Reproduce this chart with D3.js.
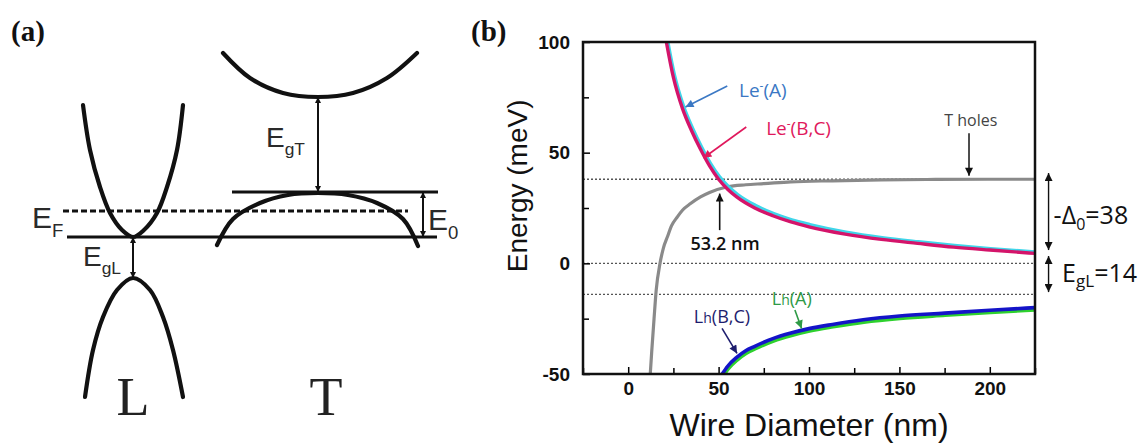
<!DOCTYPE html>
<html>
<head>
<meta charset="utf-8">
<script src="https://cdnjs.cloudflare.com/ajax/libs/d3/7.8.5/d3.min.js"></script>
<style>
  body { margin: 0; background: #fff; }
  svg { display: block; }
  .tick line { stroke: #000; stroke-width: 1.5; }
  .domain { display: none; }
</style>
</head>
<body>
<div class="chart"></div>
<script>
// ---- panel (b): wire diameter (nm) vs energy (meV)
var leDiam = [20, 25, 30, 35, 40, 45, 50, 55, 60, 70, 80, 90, 100, 120, 140, 160, 180, 200, 225];
var leA = [106, 85, 71, 61, 52.5, 45, 39, 34.5, 31, 26, 22.3, 19.5, 17.4, 14, 11.5, 9.6, 7.9, 6.5, 5];
var leBC = [105, 84, 70, 60, 51.5, 44, 38, 33.5, 30, 25, 21.5, 18.7, 16.5, 13.2, 10.8, 9, 7.3, 6, 4.5];

var tDiam = [12.2, 13, 14.3, 15.5, 17.6, 19.5, 21.7, 24, 27.2, 30, 34.5, 40, 45, 55, 65, 75, 90, 113, 140, 170, 200, 225];
var tHoles = [-50, -40, -25, -12, 0, 7, 12, 17, 21, 24, 27, 30, 32, 34.6, 35.5, 36, 36.8, 37.3, 37.7, 37.9, 38, 38];

var lhDiam = [52, 55, 60, 65, 70, 80, 90, 100, 113, 130, 150, 175, 200, 225];
var lhA = [-51, -47.5, -43.5, -40.5, -38.5, -35, -32.5, -30.5, -28.6, -26.5, -24.8, -23.4, -22.1, -21];
var lhBC = [-50, -46.5, -42.5, -39.5, -37.5, -34, -31.5, -29.5, -27.6, -25.5, -23.8, -22.5, -21.2, -20];

var xTicks = [0, 50, 100, 150, 200];
var xMinor = [-25, 25, 75, 125, 175, 225];
var yTicks = [-50, 0, 50, 100];
var yMinor = [-25, 25, 75];
var refLevels = [38, 0, -14];

// ---- panel (a): schematic bands, [k, E] in arbitrary units
var lCond = [[-1.0, 2.64], [-0.86, 1.74], [-0.66, 1.0], [-0.46, 0.48], [-0.22, 0.14], [0, 0], [0.22, 0.14], [0.48, 0.48], [0.68, 1.0], [0.88, 1.74], [1.0, 2.64]];
var lVal = [[-0.96, -3.2], [-0.8, -2.26], [-0.6, -1.6], [-0.32, -1.06], [0, -0.82], [0.34, -1.06], [0.6, -1.6], [0.8, -2.26], [1.0, -3.2]];
var tCond = [[1.8, 3.68], [2.34, 3.18], [3.0, 2.88], [3.7, 2.8], [4.4, 2.88], [5.08, 3.18], [5.68, 3.68]];
var tVal = [[1.68, -0.16], [2.0, 0.36], [2.54, 0.68], [3.1, 0.84], [3.7, 0.88], [4.3, 0.84], [4.88, 0.68], [5.4, 0.36], [5.7, -0.18]];
var solidLevels = [[-1.32, 6.08, 0], [1.98, 6.1, 0.9]];
var fermiLevel = [-1.4, 5.5, 0.52];
var gapArrows = [[3.7, 2.8, 0.9], [5.8, 0.9, 0], [0, 0, -0.82]];

var svg = d3
  .select(".chart")
  .append("svg")
  .attr("width", 1142)
  .attr("height", 445);

var defs = svg.append("defs");

function addMarker(id, color, w, h) {
  defs
    .append("marker")
    .attr("id", id)
    .attr("viewBox", "0 0 10 10")
    .attr("refX", 10)
    .attr("refY", 5)
    .attr("markerUnits", "userSpaceOnUse")
    .attr("markerWidth", w)
    .attr("markerHeight", h)
    .attr("orient", "auto-start-reverse")
    .append("path")
    .attr("d", "M0,0L10,5L0,10z")
    .attr("fill", color);
}
addMarker("head-a", "#111", 8, 6);
addMarker("head-k", "#111", 10, 8);
addMarker("head-blue", "#3b78c4", 10, 8);
addMarker("head-red", "#e0185c", 10, 8);
addMarker("head-green", "#2e9a46", 10, 8);
addMarker("head-navy", "#1d1d6e", 10, 8);

// panel labels
svg.append("text").attr("x", 11).attr("y", 41).text("(a)")
  .style("font", "bold 29px 'Liberation Serif', serif").attr("fill", "#111");
svg.append("text").attr("x", 471).attr("y", 41).text("(b)")
  .style("font", "bold 29px 'Liberation Serif', serif").attr("fill", "#111");

// ================= panel (a)
var ka = d3.scaleLinear().domain([0, 1]).range([133, 183]);
var ea = d3.scaleLinear().domain([0, 1]).range([237, 187]);
var gA = svg.append("g");

var bandLine = d3
  .line()
  .x((d) => ka(d[0]))
  .y((d) => ea(d[1]))
  .curve(d3.curveCatmullRom);

[lCond, lVal, tCond, tVal].forEach(function (band) {
  gA.append("path")
    .attr("d", bandLine(band))
    .attr("fill", "none")
    .attr("stroke", "#111")
    .attr("stroke-width", 4.2)
    .attr("stroke-linecap", "round");
});

solidLevels.forEach(function (d) {
  gA.append("line")
    .attr("x1", ka(d[0])).attr("x2", ka(d[1]))
    .attr("y1", ea(d[2])).attr("y2", ea(d[2]))
    .attr("stroke", "#111").attr("stroke-width", 3);
});

gA.append("line")
  .attr("x1", ka(fermiLevel[0])).attr("x2", ka(fermiLevel[1]))
  .attr("y1", ea(fermiLevel[2])).attr("y2", ea(fermiLevel[2]))
  .attr("stroke", "#111").attr("stroke-width", 3)
  .attr("stroke-dasharray", "6,3");

gapArrows.forEach(function (d) {
  gA.append("line")
    .attr("x1", ka(d[0])).attr("x2", ka(d[0]))
    .attr("y1", ea(d[1])).attr("y2", ea(d[2]))
    .attr("stroke", "#111").attr("stroke-width", 2)
    .attr("marker-start", "url(#head-a)")
    .attr("marker-end", "url(#head-a)");
});

function subLabel(g, k, e, main, sub, size) {
  var t = g.append("text")
    .attr("x", ka(k)).attr("y", ea(e))
    .style("font-family", "'Liberation Sans', Arial, sans-serif")
    .style("font-size", size + "px")
    .attr("fill", "#2a2a2a");
  t.append("tspan").text(main);
  t.append("tspan").attr("dy", size * 0.3).style("font-size", size * 0.62 + "px").text(sub);
  return t;
}
subLabel(gA, -2.02, 0.18, "E", "F", 30);
subLabel(gA, 2.66, 1.8, "E", "gT", 28);
subLabel(gA, -1.0, -0.58, "E", "gL", 28);
subLabel(gA, 5.9, 0.14, "E", "0", 30);

gA.append("text").attr("x", ka(0)).attr("y", ea(-3.56)).attr("text-anchor", "middle")
  .style("font", "54px 'Liberation Serif', serif").attr("fill", "#222").text("L");
gA.append("text").attr("x", ka(3.86)).attr("y", ea(-3.56)).attr("text-anchor", "middle")
  .style("font", "54px 'Liberation Serif', serif").attr("fill", "#222").text("T");

// ================= panel (b)
var x = d3.scaleLinear().domain([-25, 225]).range([583, 1035]);
var y = d3.scaleLinear().domain([-50, 100]).range([374, 42]);
var gB = svg.append("g");

defs.append("clipPath").attr("id", "plot-clip")
  .append("rect")
  .attr("x", x(-25)).attr("y", y(100))
  .attr("width", x(225) - x(-25)).attr("height", y(-50) - y(100));

// dotted reference levels
gB.selectAll(".ref")
  .data(refLevels)
  .enter()
  .append("line")
  .attr("x1", x(-25)).attr("x2", x(225))
  .attr("y1", (d) => y(d)).attr("y2", (d) => y(d))
  .attr("stroke", "#555").attr("stroke-width", 1.3)
  .attr("stroke-dasharray", "2,2");

var curves = gB.append("g").attr("clip-path", "url(#plot-clip)");

function drawSeries(xs, ys, color, width, dx, dy) {
  var pts = xs.map((d, i) => [d, ys[i]]);
  curves.append("path")
    .datum(pts)
    .attr("d", d3.line().x((d) => x(d[0]) + dx).y((d) => y(d[1]) + dy).curve(d3.curveMonotoneX))
    .attr("fill", "none")
    .attr("stroke", color)
    .attr("stroke-width", width)
    .attr("stroke-linejoin", "round");
}

drawSeries(tDiam, tHoles, "#8a8a8a", 3.2, 0, 0);
drawSeries(leDiam, leA, "#3fd6ea", 4, 0.8, 0);
drawSeries(leDiam, leBC, "#d4146a", 3.4, 0, 0);
drawSeries(lhDiam, lhA, "#2ed12e", 4, 0.6, 0);
drawSeries(lhDiam, lhBC, "#1414c8", 3.6, 0, 0);

// axes (ticks point inward)
var xAxis = d3.axisBottom(x).tickValues(xTicks).tickSizeInner(-7).tickSizeOuter(0)
  .tickPadding(8).tickFormat((d) => String(d));
var xAxisMinor = d3.axisBottom(x).tickValues(xMinor).tickSizeInner(-6).tickSizeOuter(0).tickFormat("");
var yAxis = d3.axisLeft(y).tickValues(yTicks).tickSizeInner(-7).tickSizeOuter(0)
  .tickPadding(13).tickFormat((d) => String(d));
var yAxisMinor = d3.axisLeft(y).tickValues(yMinor).tickSizeInner(-6).tickSizeOuter(0).tickFormat("");

gB.append("g").attr("transform", `translate(0, ${y(-50)})`).call(xAxis);
gB.append("g").attr("transform", `translate(0, ${y(-50)})`).call(xAxisMinor);
gB.append("g").attr("transform", `translate(${x(-25)}, 0)`).call(yAxis);
gB.append("g").attr("transform", `translate(${x(-25)}, 0)`).call(yAxisMinor);

gB.selectAll(".tick text")
  .style("font", "bold 19px 'Liberation Sans', Arial, sans-serif")
  .attr("fill", "#111");

gB.append("rect")
  .attr("x", x(-25)).attr("y", y(100))
  .attr("width", x(225) - x(-25)).attr("height", y(-50) - y(100))
  .attr("fill", "none").attr("stroke", "#111").attr("stroke-width", 2.5);

// axis titles
gB.append("text")
  .attr("transform", `translate(527, ${y(35)}) rotate(-90)`)
  .attr("text-anchor", "middle")
  .style("font", "28px 'Liberation Sans', Arial, sans-serif")
  .attr("fill", "#111")
  .text("Energy (meV)");
gB.append("text")
  .attr("x", x(100)).attr("y", 436)
  .attr("text-anchor", "middle")
  .style("font", "32px 'Liberation Sans', Arial, sans-serif")
  .attr("fill", "#111")
  .text("Wire Diameter (nm)");

// curve annotations
function annot(tx, ty, color, size, parts) {
  var t = gB.append("text")
    .attr("x", x(tx)).attr("y", y(ty))
    .style("font-family", "'Open Sans', sans-serif")
    .style("font-size", size + "px")
    .attr("fill", color);
  parts.forEach(function (p) {
    var s = t.append("tspan").text(p[0]);
    if (p[1]) s.style("font-size", p[1] + "px");
    if (p[2]) s.attr("dy", p[2]);
  });
  return t;
}
function arrow(x1, y1, x2, y2, marker, color) {
  gB.append("line")
    .attr("x1", x(x1)).attr("y1", y(y1))
    .attr("x2", x(x2)).attr("y2", y(y2))
    .attr("stroke", color).attr("stroke-width", 1.6)
    .attr("marker-end", `url(#${marker})`);
}

annot(61.3, 75.1, "#3b78c4", 19, [["Le"], ["-", 12, -7], ["(A)", 19, 7]]);
arrow(54.8, 80.1, 31.7, 70.6, "head-blue", "#3b78c4");
annot(76.3, 58, "#e0185c", 19, [["Le"], ["-", 12, -7], ["(B,C)", 19, 7]]);
arrow(65.3, 61.6, 41.6, 47.6, "head-red", "#e0185c");

annot(174.8, 62, "#444", 16, [["T holes"]]);
arrow(188.5, 58.8, 188.5, 39.6, "head-k", "#222");

annot(34.5, 6, "#111", 18, [["53.2 nm"]]).style("font-weight", 600);
arrow(50.6, 15, 50.6, 31.5, "head-k", "#111");

annot(79.4, -18.8, "#2e9a46", 18, [["L"], ["h", 14], ["(A)", 18]]);
arrow(92.2, -21.1, 95.9, -29.4, "head-green", "#2e9a46");
annot(36.3, -27, "#1d1d6e", 18, [["L"], ["h", 14], ["(B,C)", 18]]);
arrow(51.9, -29.4, 60.2, -40.7, "head-navy", "#1d1d6e");

// right-hand gap arrows
[[40.8, 6], [3.3, -13]].forEach(function (d) {
  gB.append("line")
    .attr("x1", x(232.5)).attr("x2", x(232.5))
    .attr("y1", y(d[0])).attr("y2", y(d[1]))
    .attr("stroke", "#111").attr("stroke-width", 1.4)
    .attr("marker-start", "url(#head-k)")
    .attr("marker-end", "url(#head-k)");
});
annot(235.3, 17.7, "#111", 25, [["-Δ"], ["0", 16, 6], ["=38", 25, -6]]);
annot(240, -8.4, "#111", 25, [["E"], ["gL", 17, 5], ["=14", 25, -5]]);
</script>
</body>
</html>
